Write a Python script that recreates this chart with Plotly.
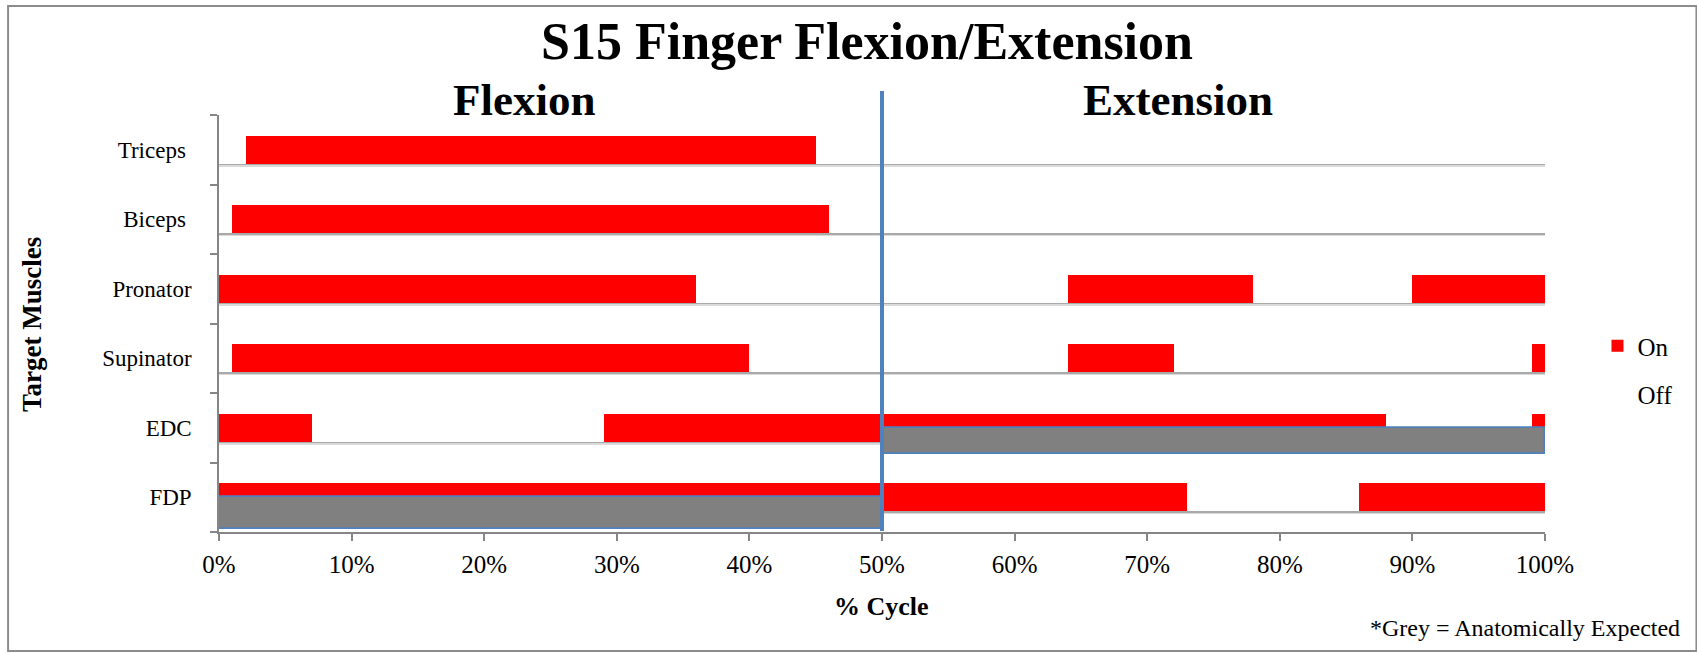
import plotly.graph_objects as go

# ---------------- data ----------------
muscles = ["FDP", "EDC", "Supinator", "Pronator", "Biceps", "Triceps"]

on_muscle = ["Triceps", "Biceps",
             "Pronator", "Pronator", "Pronator",
             "Supinator", "Supinator", "Supinator",
             "EDC", "EDC", "EDC",
             "FDP", "FDP"]
on_start = [2, 1, 0, 64, 90, 1, 64, 99, 0, 29, 99, 0, 86]
on_end = [45, 46, 36, 78, 100, 40, 72, 100, 7, 88, 100, 73, 100]

cycle_start = 0
cycle_end = 100

expected_muscle = ["FDP", "EDC"]
expected_start = [0, 50]
expected_end = [50, 100]

x_ticks = [0, 10, 20, 30, 40, 50, 60, 70, 80, 90, 100]
x_tick_labels = ["0%", "10%", "20%", "30%", "40%", "50%",
                 "60%", "70%", "80%", "90%", "100%"]
phase_split = 50
phase_labels = ["Flexion", "Extension"]

# ---------------- layout helpers ----------------
FIG_W, FIG_H = 1697, 653
M_L, M_R, M_T, M_B = 219, 151.5, 115, 121
PW = FIG_W - M_L - M_R
PH = FIG_H - M_T - M_B


def px(x):
    return (x - M_L) / PW


def py(y):
    return (FIG_H - M_B - y) / PH


FONT = "Liberation Serif"
RED = "#ff0000"
BLUE = "#4f81bd"
AXIS = "#868686"

fig = go.Figure()

# soft shadow beneath each row (two layers)
fig.add_trace(go.Bar(
    y=muscles, x=[cycle_end - cycle_start] * len(muscles), base=[cycle_start] * len(muscles),
    orientation="h", width=0.40, offset=-0.245,
    marker=dict(color="#dadada", line=dict(width=0)),
    showlegend=False, hoverinfo="skip"))
fig.add_trace(go.Bar(
    y=muscles, x=[cycle_end - cycle_start] * len(muscles), base=[cycle_start] * len(muscles),
    orientation="h", width=0.40, offset=-0.225,
    marker=dict(color="#a9a9a9", line=dict(width=0)),
    showlegend=False, hoverinfo="skip"))

# Off (white full rows)
fig.add_trace(go.Bar(
    name="Off",
    y=muscles, x=[cycle_end - cycle_start] * len(muscles), base=[cycle_start] * len(muscles),
    orientation="h", width=0.40, offset=-0.20,
    marker=dict(color="#ffffff", line=dict(width=0)),
    legendgroup="off", legendrank=2))

# On (red segments)
fig.add_trace(go.Bar(
    name="On",
    y=on_muscle, x=[e - s for s, e in zip(on_start, on_end)], base=on_start,
    orientation="h", width=0.40, offset=-0.20,
    marker=dict(color=RED, line=dict(width=0)),
    legendgroup="on", legendrank=1))

# Anatomically expected (grey)
fig.add_trace(go.Bar(
    y=expected_muscle, x=[e - s for s, e in zip(expected_start, expected_end)],
    base=expected_start,
    orientation="h", width=[0.45, 0.38], offset=[-0.45, -0.38],
    marker=dict(color="#808080", line=dict(color=BLUE, width=1.8)),
    showlegend=False, hoverinfo="skip"))

shapes = [
    # outer chart border
    dict(type="rect", xref="paper", yref="paper",
         x0=px(8), x1=px(1697), y0=py(651), y1=py(6),
         line=dict(color="#8c8c8c", width=2), fillcolor="rgba(0,0,0,0)", layer="below"),
    # phase split line
    dict(type="line", xref="x", yref="paper",
         x0=phase_split, x1=phase_split, y0=py(531), y1=py(91),
         line=dict(color=BLUE, width=4)),
]

annotations = [
    dict(text="<b>S15 Finger Flexion/Extension</b>", x=px(867), y=py(41),
         xref="paper", yref="paper", showarrow=False,
         font=dict(family=FONT, size=52, color="#000"), xanchor="center", yanchor="middle"),
    dict(text="<b>%s</b>" % phase_labels[0], x=px(525), y=py(100),
         xref="paper", yref="paper", showarrow=False,
         font=dict(family=FONT, size=45, color="#000"), xanchor="center", yanchor="middle"),
    dict(text="<b>%s</b>" % phase_labels[1], x=px(1178), y=py(100),
         xref="paper", yref="paper", showarrow=False,
         font=dict(family=FONT, size=45, color="#000"), xanchor="center", yanchor="middle"),
    dict(text="<b>% Cycle</b>", x=px(882), y=py(606),
         xref="paper", yref="paper", showarrow=False,
         font=dict(family=FONT, size=26, color="#000"), xanchor="center", yanchor="middle"),
    dict(text="<b>Target Muscles</b>", x=px(32), y=py(325), textangle=-90,
         xref="paper", yref="paper", showarrow=False,
         font=dict(family=FONT, size=27, color="#000"), xanchor="center", yanchor="middle"),
    dict(text="*Grey = Anatomically Expected", x=px(1683), y=py(628),
         xref="paper", yref="paper", showarrow=False,
         font=dict(family=FONT, size=24, color="#000"), xanchor="right", yanchor="middle"),
]

fig.update_layout(
    width=FIG_W, height=FIG_H,
    margin=dict(l=M_L, r=M_R, t=M_T, b=M_B, pad=0),
    paper_bgcolor="#ffffff", plot_bgcolor="#ffffff",
    barmode="overlay", bargap=0,
    font=dict(family=FONT, size=24, color="#000"),
    shapes=shapes, annotations=annotations,
    legend=dict(x=px(1598), y=py(370), xanchor="left", yanchor="middle",
                traceorder="grouped", tracegroupgap=13,
                font=dict(family=FONT, size=25, color="#000"),
                bgcolor="rgba(0,0,0,0)", itemwidth=30),
    xaxis=dict(range=[cycle_start, cycle_end], tickmode="array", tickvals=x_ticks,
               ticktext=x_tick_labels, ticks="outside", ticklen=7, tickcolor=AXIS, tickwidth=1.5,
               showline=True, linecolor=AXIS, linewidth=1.5, showgrid=False, zeroline=False,
               ticklabelstandoff=2, tickfont=dict(family=FONT, size=25, color="#000"),
               fixedrange=True),
    yaxis=dict(type="category", categoryorder="array", categoryarray=muscles,
               range=[-0.5, len(muscles) - 0.5], tickson="boundaries",
               labelalias={"Triceps": "Triceps\u00a0", "Biceps": "Biceps\u00a0"},
               ticks="outside", ticklen=7, tickcolor=AXIS, tickwidth=1.5,
               showline=True, linecolor=AXIS, linewidth=1.5, showgrid=False, zeroline=False,
               ticklabelstandoff=21, tickfont=dict(family=FONT, size=23, color="#000"),
               fixedrange=True),
)

fig.write_html("out.html")
